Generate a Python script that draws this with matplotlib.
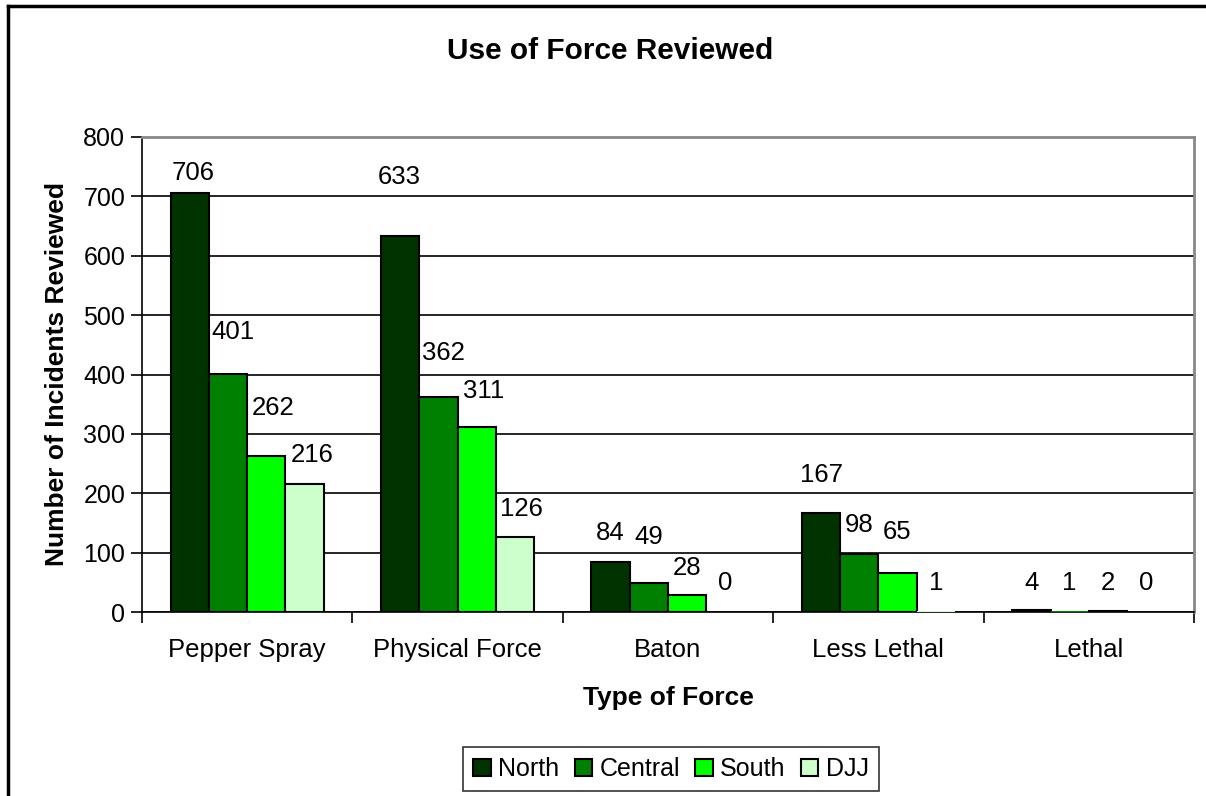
import matplotlib
matplotlib.use("Agg")
import matplotlib.pyplot as plt
import numpy as np
from matplotlib.lines import Line2D

categories = ["Pepper Spray", "Physical Force", "Baton", "Less Lethal", "Lethal"]
series_names = ["North", "Central", "South", "DJJ"]
north = [706, 633, 84, 167, 4]
central = [401, 362, 49, 98, 1]
south = [262, 311, 28, 65, 2]
djj = [216, 126, 0, 1, 0]
colors = ["#003300", "#008000", "#00FF00", "#CCFFCC"]

# label placement (pixels above bar top, horizontal shift) as styling
label_dy = [[20, 59, 29, 38, 27],
            [42, 44, 46, 29, 28],
            [48, 36, 27, 41, 28],
            [29, 28, 29, 28, 29]]
label_dx = [[3, -1, 0, 0, 0],
            [5, 5, 0, 0, 0],
            [7, 7, 0, 0, 0],
            [8, 6, 0, 0, 0]]

plt.rcParams['font.family'] = ['Liberation Sans', 'DejaVu Sans']
W, H = 1206, 796
fig = plt.figure(figsize=(W / 100, H / 100), dpi=100)
ax = fig.add_axes([142 / W, 1 - 612 / H, (1194 - 142) / W, (612 - 137) / H])

values = [north, central, south, djj]
x = np.arange(len(categories))
bw = 1 / 5.5
for i, (vals, col) in enumerate(zip(values, colors)):
    pos = x - 2 * bw + (i + 0.5) * bw
    lw = [1.5 if v > 1 else 0 for v in vals]
    ax.bar(pos, vals, width=bw, color=col, edgecolor="black", linewidth=lw, zorder=3,
           label=series_names[i])
    for j, (p, v) in enumerate(zip(pos, vals)):
        ax.annotate(str(v), (p, v), xytext=(label_dx[i][j] * 0.72, label_dy[i][j] * 0.72),
                    textcoords="offset points", ha="center", va="center", fontsize=18.5,
                    zorder=4)

ax.set_xlim(-0.5, len(categories) - 0.5)
ax.set_ylim(0, 800)
ax.set_yticks(np.arange(0, 801, 100))
ax.yaxis.grid(True, color="black", linewidth=1.2, zorder=0)
ax.set_axisbelow(True)
ax.set_xticks(np.arange(-0.5, len(categories), 1.0))
ax.set_xticklabels([])
ax.set_xticks(x, minor=True)
ax.set_xticklabels(categories, minor=True, fontsize=18.5)
ax.tick_params(axis="x", which="minor", length=0, pad=19)
ax.tick_params(axis="x", which="major", length=8, width=1.2, direction="out")
ax.tick_params(axis="y", length=8, width=1.2, direction="out", labelsize=18, pad=4)

for s in ["top", "right"]:
    ax.spines[s].set_color("#888888")
    ax.spines[s].set_linewidth(2)
for s in ["left", "bottom"]:
    ax.spines[s].set_color("black")
    ax.spines[s].set_linewidth(1.2)

ax.set_ylabel("Number of Incidents Reviewed", fontsize=19, fontweight="bold", labelpad=10)
ax.set_xlabel("Type of Force", fontsize=19, fontweight="bold", labelpad=17)
fig.text(610 / W, 1 - 51 / H, "Use of Force Reviewed", ha="center", va="center",
         fontsize=21.5, fontweight="bold")

leg = fig.legend(loc="center", bbox_to_anchor=(671 / W, 1 - 769 / H), ncol=4, fontsize=18,
                 frameon=True, fancybox=False, edgecolor="black", handlelength=0.7,
                 handleheight=0.7, handletextpad=0.3, columnspacing=0.6, borderpad=0.4)
leg.get_frame().set_linewidth(1.2)

# outer chart border (cropped at right and bottom)
fig.add_artist(Line2D([8 / W, 8 / W], [0, 1 - 6 / H], color="black", linewidth=2.5,
                      transform=fig.transFigure))
fig.add_artist(Line2D([8 / W, 1], [1 - 6 / H, 1 - 6 / H], color="black", linewidth=2.5,
                      transform=fig.transFigure))

fig.savefig("out.png", dpi=100)
